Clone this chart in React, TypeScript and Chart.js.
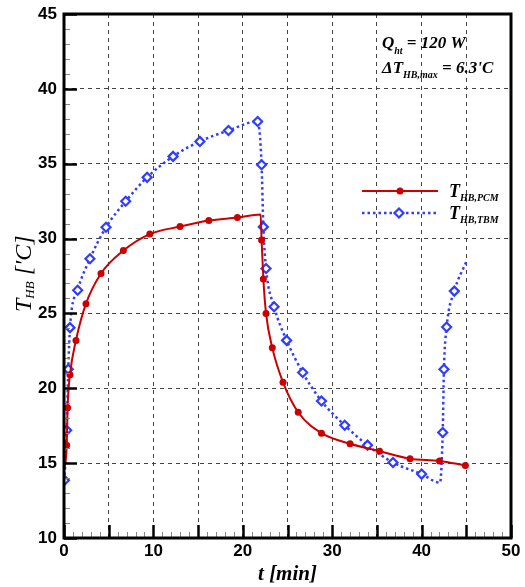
import React, { useEffect, useRef } from 'react';
import { Chart, registerables } from 'chart.js';

Chart.register(...registerables);

// ---- data ----
const pcmTime = [0, 0.3, 0.4, 0.67, 1.34, 2.46, 4.14, 6.64, 9.6, 12.98, 16.2, 19.4, 22.0, 22.1, 22.3, 22.6, 23.3, 24.5, 26.2, 28.8, 32.0, 35.3, 38.7, 42.0, 44.9];
const pcmTemp = [14.5, 16.2, 18.7, 20.9, 23.2, 25.65, 27.67, 29.2, 30.3, 30.8, 31.2, 31.4, 31.6, 29.9, 27.3, 25.0, 22.7, 20.4, 18.4, 17.0, 16.3, 15.8, 15.3, 15.15, 14.85];
const pcmUnmarked = [0, 12];

const tbmTime = [0.05, 0.3, 0.48, 0.67, 1.53, 2.9, 4.7, 6.9, 9.3, 12.2, 15.2, 18.4, 21.66, 22.1, 22.3, 22.6, 23.5, 24.9, 26.7, 28.8, 31.4, 33.95, 36.8, 40.0, 42.06, 42.36, 42.5, 42.8, 43.66, 44.97];
const tbmTemp = [13.85, 17.2, 21.27, 24.05, 26.55, 28.65, 30.76, 32.49, 34.09, 35.49, 36.49, 37.22, 37.82, 34.93, 30.78, 28.0, 25.45, 23.2, 21.05, 19.15, 17.53, 16.2, 15.04, 14.27, 13.7, 17.05, 21.27, 24.09, 26.49, 28.42];
const tbmUnmarked = [24, 29];

const xRange = [0, 50];
const yRange = [10, 45];
const xLabelEvery = 10;
const gridStep = 5;

const xTitle = 't [min]';
const yTitleParts = ['T', 'HB', " ['C]"];
const legendItems = [
  { main: 'T', sub: 'HB,PCM' },
  { main: 'T', sub: 'HB,TBM' },
];
const noteLine1 = ['Q', 'ht', ' = 120 W'];
const noteLine2 = ['\u0394T', 'HB,max', " = 6.3'C"];

const RED = '#cc0000';
const BLUE = '#2f3dff';
const SERIF = '"Liberation Serif", "DejaVu Serif", serif';
const SANS = '"Liberation Sans", Arial, sans-serif';

type Part = { text: string; font: string; dy?: number };

function drawRich(ctx: CanvasRenderingContext2D, x: number, y: number, parts: Part[]) {
  let cx = x;
  for (const p of parts) {
    ctx.font = p.font;
    ctx.fillText(p.text, cx, y + (p.dy || 0));
    cx += ctx.measureText(p.text).width;
  }
}

const decor = {
  id: 'decor',
  afterDraw(chart: any) {
    const { ctx, chartArea: a, scales } = chart;
    const x = scales.x;
    const y = scales.y;
    ctx.save();
    // inward ticks
    for (let v = xRange[0]; v <= xRange[1]; v += 1) {
      const px = Math.round(x.getPixelForValue(v)) + 0.5;
      const major = v % gridStep === 0;
      ctx.beginPath();
      ctx.strokeStyle = major ? '#000' : '#888';
      ctx.lineWidth = major ? 2.5 : 1;
      ctx.moveTo(px, a.bottom);
      ctx.lineTo(px, a.bottom - (major ? 13 : 6));
      ctx.stroke();
    }
    for (let v = yRange[0]; v <= yRange[1]; v += 1) {
      const py = Math.round(y.getPixelForValue(v)) + 0.5;
      const major = v % gridStep === 0;
      ctx.beginPath();
      ctx.strokeStyle = major ? '#000' : '#888';
      ctx.lineWidth = major ? 2.5 : 1;
      ctx.moveTo(a.left, py);
      ctx.lineTo(a.left + (major ? 13 : 6), py);
      ctx.stroke();
    }
    // frame
    ctx.lineWidth = 3;
    ctx.strokeStyle = '#000';
    ctx.strokeRect(a.left, a.top, a.right - a.left, a.bottom - a.top);

    // legend
    ctx.fillStyle = '#000';
    ctx.textBaseline = 'alphabetic';
    ctx.textAlign = 'left';
    const lx0 = 362, lx1 = 438;
    // PCM
    ctx.beginPath();
    ctx.strokeStyle = RED;
    ctx.lineWidth = 2;
    ctx.moveTo(lx0, 191);
    ctx.lineTo(lx1, 191);
    ctx.stroke();
    ctx.beginPath();
    ctx.fillStyle = RED;
    ctx.arc(400, 191, 3.5, 0, Math.PI * 2);
    ctx.fill();
    // TBM
    ctx.beginPath();
    ctx.strokeStyle = BLUE;
    ctx.lineWidth = 2.5;
    ctx.setLineDash([2.5, 3]);
    ctx.moveTo(lx0, 213);
    ctx.lineTo(lx1 - 2, 213);
    ctx.stroke();
    ctx.setLineDash([]);
    ctx.beginPath();
    ctx.moveTo(399, 213 - 4.5);
    ctx.lineTo(399 + 4.5, 213);
    ctx.lineTo(399, 213 + 4.5);
    ctx.lineTo(399 - 4.5, 213);
    ctx.closePath();
    ctx.fillStyle = '#fff';
    ctx.fill();
    ctx.lineWidth = 2.2;
    ctx.stroke();

    ctx.fillStyle = '#000';
    const lf = `italic bold 18px ${SERIF}`;
    const lsf = `italic bold 10px ${SERIF}`;
    drawRich(ctx, 449, 197, [{ text: legendItems[0].main, font: lf }, { text: legendItems[0].sub, font: lsf, dy: 4 }]);
    drawRich(ctx, 449, 219, [{ text: legendItems[1].main, font: lf }, { text: legendItems[1].sub, font: lsf, dy: 4 }]);

    // annotation
    const nf = `italic bold 17px ${SERIF}`;
    const nsf = `italic bold 10px ${SERIF}`;
    drawRich(ctx, 382, 48, [
      { text: noteLine1[0], font: nf },
      { text: noteLine1[1], font: nsf, dy: 6 },
      { text: noteLine1[2], font: nf },
    ]);
    drawRich(ctx, 382, 73, [
      { text: noteLine2[0], font: nf },
      { text: noteLine2[1], font: nsf, dy: 5 },
      { text: noteLine2[2], font: nf },
    ]);

    // y title (rotated)
    ctx.translate(31, 312);
    ctx.rotate(-Math.PI / 2);
    drawRich(ctx, 0, 0, [
      { text: yTitleParts[0], font: `italic 24px ${SERIF}` },
      { text: yTitleParts[1], font: `italic 13px ${SERIF}`, dy: 3 },
      { text: yTitleParts[2], font: `italic 24px ${SERIF}` },
    ]);
    ctx.restore();
  },
};

export default function App() {
  const ref = useRef<HTMLCanvasElement | null>(null);
  useEffect(() => {
    if (!ref.current) return;
    const chart = new Chart(ref.current, {
      type: 'line',
      data: {
        datasets: [
          {
            label: 'T_HB,PCM',
            data: pcmTime.map((t, i) => ({ x: t, y: pcmTemp[i] })),
            borderColor: RED,
            backgroundColor: RED,
            borderWidth: 2,
            pointStyle: 'circle',
            pointRadius: (c: any) => (pcmUnmarked.includes(c.dataIndex) ? 0 : 3.5),
            pointBorderWidth: 0,
            cubicInterpolationMode: 'monotone',
            fill: false,
          },
          {
            label: 'T_HB,TBM',
            data: tbmTime.map((t, i) => ({ x: t, y: tbmTemp[i] })),
            borderColor: BLUE,
            backgroundColor: '#ffffff',
            pointBorderColor: BLUE,
            borderWidth: 2.5,
            borderDash: [2.5, 3],
            pointStyle: 'rectRot',
            pointRadius: (c: any) => (tbmUnmarked.includes(c.dataIndex) ? 0 : 4.5),
            pointBorderWidth: 2.2,
            cubicInterpolationMode: 'monotone',
            fill: false,
          },
        ],
      },
      options: {
        responsive: false,
        maintainAspectRatio: false,
        animation: false,
        devicePixelRatio: 1,
        layout: { padding: { top: 14, right: 14, left: 0, bottom: 0 } },
        plugins: { legend: { display: false }, tooltip: { enabled: false } },
        scales: {
          x: {
            type: 'linear',
            min: xRange[0],
            max: xRange[1],
            afterFit: (s: any) => { s.height = 49; s.paddingLeft = 0; s.paddingRight = 0; },
            ticks: {
              stepSize: gridStep,
              padding: 3,
              color: '#000',
              font: { family: SANS, weight: 'bold', size: 17 },
              maxRotation: 0,
              autoSkip: false,
              callback: (v: any) => (Number(v) % xLabelEvery === 0 ? String(v) : ''),
            },
            grid: { color: '#444', lineWidth: 1, drawTicks: false },
            border: { display: false, dash: [4, 4] },
            title: {
              display: true,
              text: xTitle,
              color: '#000',
              font: { family: SERIF, style: 'italic', weight: 'bold', size: 21, lineHeight: 1.2 },
              padding: { top: 0, bottom: 0 },
            },
          },
          y: {
            type: 'linear',
            min: yRange[0],
            max: yRange[1],
            afterFit: (s: any) => { s.width = 64; s.paddingTop = 0; s.paddingBottom = 0; },
            ticks: {
              stepSize: gridStep,
              padding: 7,
              color: '#000',
              font: { family: SANS, weight: 'bold', size: 17 },
              autoSkip: false,
            },
            grid: { color: '#444', lineWidth: 1, drawTicks: false },
            border: { display: false, dash: [4, 4] },
            title: { display: false },
          },
        },
      },
      plugins: [decor],
    } as any);
    return () => chart.destroy();
  }, []);
  return (
    <div style={{ position: 'fixed', left: 0, top: 0, width: 525, height: 587, background: '#fff' }}>
      <canvas ref={ref} width={525} height={587} style={{ width: 525, height: 587, display: 'block' }} />
    </div>
  );
}
